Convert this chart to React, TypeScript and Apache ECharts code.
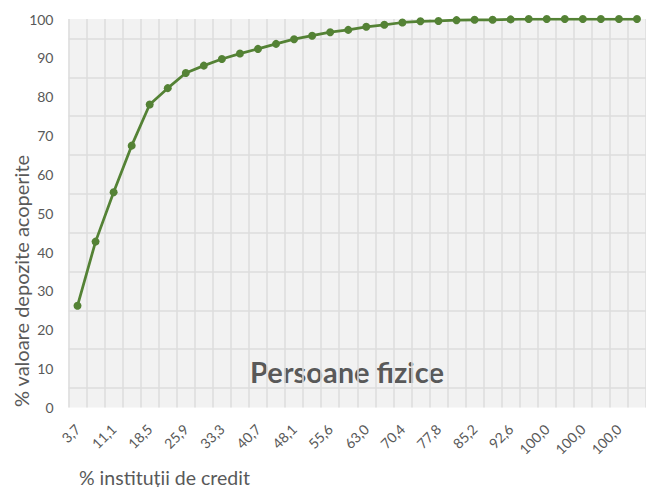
import React, { useEffect, useRef } from "react";
import * as echarts from "echarts";

const categories: string[] = [
  "3,7", "7,4", "11,1", "14,8", "18,5", "22,2", "25,9", "29,6",
  "33,3", "37,0", "40,7", "44,4", "48,1", "51,9", "55,6", "59,3",
  "63,0", "66,7", "70,4", "74,1", "77,8", "81,5", "85,2", "88,9",
  "92,6", "96,3", "100,0", "100,0", "100,0", "100,0", "100,0", "100,0",
];

const coveredDeposits: number[] = [
  26.2, 42.7, 55.4, 67.4, 78.0, 82.2, 86.1, 88.0,
  89.7, 91.1, 92.3, 93.6, 94.8, 95.7, 96.6, 97.2,
  98.0, 98.5, 99.1, 99.4, 99.5, 99.7, 99.8, 99.8,
  99.9, 100, 100, 100, 100, 100, 100, 100,
];

const chartTitle = "Persoane fizice";
const xAxisTitle = "% instituții de credit";
const yAxisTitle = "% valoare depozite acoperite";

const FONT = "Lato, 'Liberation Sans', sans-serif";
const TEXT_COLOR = "#595959";
const GRID_COLOR = "#dcdcdc";
const LINE_COLOR = "#548235";

export default function App() {
  const ref = useRef<HTMLDivElement>(null);

  useEffect(() => {
    if (!ref.current) return;
    const chart = echarts.init(ref.current, null, { renderer: "svg" });
    chart.setOption({
      animation: false,
      backgroundColor: "#ffffff",
      grid: {
        left: 68.5,
        right: -1.5,
        top: 19,
        bottom: 79.5,
        show: true,
        backgroundColor: "#f2f2f2",
        borderWidth: 0,
      },
      xAxis: {
        type: "category",
        data: categories,
        boundaryGap: true,
        axisLine: { show: false },
        axisTick: { show: false },
        axisLabel: {
          interval: 1,
          rotate: 45,
          margin: 19,
          color: TEXT_COLOR,
          fontFamily: FONT,
          fontSize: 14,
        },
        splitLine: {
          show: true,
          interval: 0,
          lineStyle: { color: GRID_COLOR, width: 1.5 },
        },
      },
      yAxis: [
        {
          type: "value",
          min: 0,
          max: 100,
          interval: 10,
          position: "left",
          axisLine: { show: false },
          axisTick: { show: false },
          splitLine: { show: false },
          axisLabel: {
            margin: 15,
            color: TEXT_COLOR,
            fontFamily: FONT,
            fontSize: 14,
          },
        },
        {
          type: "value",
          min: 0,
          max: 100,
          interval: 5,
          position: "left",
          axisLine: { show: false },
          axisTick: { show: false },
          axisLabel: { show: false },
          splitLine: {
            show: true,
            lineStyle: { color: ["rgba(0,0,0,0)", GRID_COLOR], width: 1.5 },
          },
        },
      ],
      series: [
        {
          type: "line",
          data: coveredDeposits,
          yAxisIndex: 0,
          symbol: "circle",
          symbolSize: 8,
          lineStyle: { color: LINE_COLOR, width: 2.75 },
          itemStyle: { color: LINE_COLOR },
        },
      ],
      graphic: [
        {
          type: "text",
          x: 347,
          y: 371,
          style: {
            text: chartTitle,
            fill: TEXT_COLOR,
            font: `bold 29px ${FONT}`,
            textAlign: "center",
            textVerticalAlign: "middle",
          },
        },
        {
          type: "text",
          x: 79,
          y: 477,
          style: {
            text: xAxisTitle,
            fill: TEXT_COLOR,
            font: `19.5px ${FONT}`,
            textAlign: "left",
            textVerticalAlign: "middle",
          },
        },
        {
          type: "text",
          x: 21,
          y: 281,
          rotation: Math.PI / 2,
          style: {
            text: yAxisTitle,
            fill: TEXT_COLOR,
            font: `20px ${FONT}`,
            textAlign: "center",
            textVerticalAlign: "middle",
          },
        },
      ],
    });
    return () => chart.dispose();
  }, []);

  return (
    <div
      ref={ref}
      style={{ position: "fixed", left: 0, top: 0, width: 646, height: 487 }}
    />
  );
}
